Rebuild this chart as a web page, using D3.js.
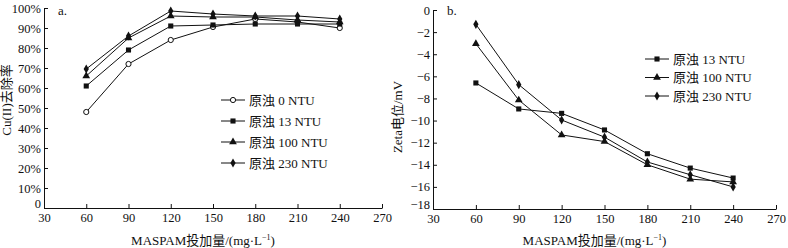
<!DOCTYPE html>
<html lang="zh">
<head>
  <meta charset="UTF-8" />
  <title>MASPAM charts</title>
  <script src="https://d3js.org/d3.v7.min.js"></script>
  <style>
    body { margin: 0; background: #fff; }
    svg { display: block; }
    text { font-family: "Liberation Serif", "Noto Sans CJK SC", serif; fill: #111; }
    .axis path, .axis line { stroke: #111; stroke-width: 1; }
    .series { fill: none; stroke: #111; stroke-width: 1; }
  </style>
</head>
<body>
  <svg width="788" height="248"></svg>
  <script>
    // dosage (mg/L)
    const dose = [60, 90, 120, 150, 180, 210, 240];
    const xTicks = [30, 60, 90, 120, 150, 180, 210, 240, 270];

    // panel a: Cu(II) removal (%)
    const removal0 = [48, 72, 84, 90.5, 94.5, 93, 90];
    const removal13 = [61, 79, 91, 91.5, 92, 92, 92];
    const removal100 = [66, 85, 96, 95.5, 95.5, 94, 93];
    const removal230 = [69.5, 86, 98.5, 97, 96, 96, 94.5];
    const removalTicks = [0, 10, 20, 30, 40, 50, 60, 70, 80, 90, 100];

    // panel b: zeta potential (mV)
    const zeta13 = [-6.6, -8.95, -9.35, -10.85, -13, -14.3, -15.2];
    const zeta100 = [-3.05, -8.15, -11.3, -11.9, -14, -15.3, -15.55];
    const zeta230 = [-1.3, -6.75, -9.95, -11.5, -13.75, -14.9, -16];
    const zetaTicks = [0, -2, -4, -6, -8, -10, -12, -14, -16, -18];

    const legendA = ["原浊 0 NTU", "原浊 13 NTU", "原浊 100 NTU", "原浊 230 NTU"];
    const legendB = ["原浊 13 NTU", "原浊 100 NTU", "原浊 230 NTU"];

    const svg = d3.select("svg");

    // marker drawing
    function marker(g, kind, x, y) {
      if (kind === "circle") {
        g.append("circle").attr("cx", x).attr("cy", y).attr("r", 2.6)
          .attr("fill", "#fff").attr("stroke", "#111").attr("stroke-width", 1);
      } else {
        const type = kind === "square" ? d3.symbolSquare
                   : kind === "triangle" ? d3.symbolTriangle : d3.symbolDiamond;
        const size = kind === "diamond" ? 24 : 26;
        g.append("path").attr("d", d3.symbol().type(type).size(size)())
          .attr("transform", `translate(${x},${y})`).attr("fill", "#111");
      }
    }

    function drawPanel(cfg) {
      const x = d3.scaleLinear().domain([30, 270]).range(cfg.xr);
      const y = d3.scaleLinear().domain(cfg.yd).range(cfg.yr);
      const g = svg.append("g");

      // x axis (ticks inward)
      const xa = g.append("g").attr("class", "axis")
        .attr("transform", `translate(0,${cfg.yr[0]})`)
        .call(d3.axisBottom(x).tickValues(xTicks).tickSizeInner(-4).tickSizeOuter(0).tickPadding(3));
      xa.selectAll("text").attr("font-size", 12.5).attr("dy", "0.9em");

      // y axis (ticks inward)
      const ya = g.append("g").attr("class", "axis")
        .attr("transform", `translate(${cfg.xr[0]},0)`)
        .call(d3.axisLeft(y).tickValues(cfg.yTicks).tickSizeInner(-4).tickSizeOuter(0)
          .tickPadding(3).tickFormat(cfg.fmt));
      ya.selectAll("text").attr("font-size", 12.5)
        .attr("dy", d => d === cfg.yd[0] ? "-0.05em" : "0.32em");

      // series
      const line = d3.line().x((d, i) => x(dose[i])).y(d => y(d));
      cfg.series.forEach(s => {
        g.append("path").attr("class", "series").attr("d", line(s.values));
        s.values.forEach((v, i) => marker(g, s.kind, x(dose[i]), y(v)));
      });

      // legend
      cfg.series.forEach((s, i) => {
        const ly = cfg.legend.y + i * cfg.legend.dy;
        g.append("line").attr("x1", cfg.legend.x).attr("x2", cfg.legend.x + 24)
          .attr("y1", ly).attr("y2", ly).attr("stroke", "#111");
        marker(g, s.kind, cfg.legend.x + 12, ly);
        g.append("text").attr("x", cfg.legend.x + 28).attr("y", ly).attr("dy", "0.35em")
          .attr("font-size", 13).text(s.name);
      });

      // panel label
      g.append("text").attr("x", cfg.xr[0] + 14).attr("y", 15).attr("font-size", 13).text(cfg.label);

      // x title
      const xt = g.append("text").attr("x", (cfg.xr[0] + cfg.xr[1]) / 2 - 10).attr("y", 245)
        .attr("text-anchor", "middle").attr("font-size", 13);
      xt.append("tspan").text("MASPAM投加量/(mg·L");
      xt.append("tspan").attr("font-size", 8).attr("dy", -5).text("−1");
      xt.append("tspan").attr("dy", 5).text(")");

      // y title
      g.append("text").attr("transform", `translate(${cfg.ytx},${cfg.yty}) rotate(-90)`)
        .attr("text-anchor", "middle").attr("font-size", 13).text(cfg.ytitle);
    }

    drawPanel({
      xr: [44, 382], yd: [0, 100], yr: [208, 8], yTicks: removalTicks,
      fmt: d => d === 0 ? "0" : d + "%",
      series: [
        { name: legendA[0], kind: "circle", values: removal0 },
        { name: legendA[1], kind: "square", values: removal13 },
        { name: legendA[2], kind: "triangle", values: removal100 },
        { name: legendA[3], kind: "diamond", values: removal230 }
      ],
      legend: { x: 221, y: 100, dy: 21 },
      label: "a.", ytitle: "Cu(II)去除率", ytx: 11, yty: 100
    });

    drawPanel({
      xr: [433, 776], yd: [-18, 0], yr: [209, 10], yTicks: zetaTicks,
      fmt: d3.format("d"),
      series: [
        { name: legendB[0], kind: "square", values: zeta13 },
        { name: legendB[1], kind: "triangle", values: zeta100 },
        { name: legendB[2], kind: "diamond", values: zeta230 }
      ],
      legend: { x: 645, y: 59, dy: 18.5 },
      label: "b.", ytitle: "Zeta电位/mV", ytx: 402, yty: 117
    });
  </script>
</body>
</html>
